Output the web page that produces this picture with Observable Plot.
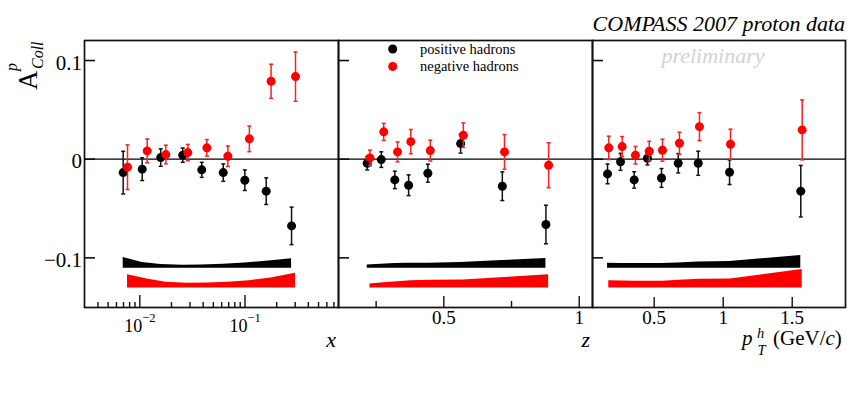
<!DOCTYPE html>
<html>
<head>
<meta charset="utf-8">
<script src="https://cdn.jsdelivr.net/npm/d3@7"></script>
<script src="https://cdn.jsdelivr.net/npm/@observablehq/plot@0.6"></script>
<style>
  body { margin: 0; background: #fff; }
  #chart { position: relative; width: 847px; height: 396px; font-family: "Liberation Serif", "DejaVu Serif", serif; }
  #chart svg { position: absolute; top: 0; overflow: visible; }
</style>
</head>
<body>
<div id="chart"></div>
<script>
// ---------- Data ----------
// Panel x (Bjorken x)
const xPosX   = [0.00695, 0.01054, 0.0158, 0.0256, 0.0388, 0.0621, 0.0996, 0.159, 0.277];
const xPosA   = [-0.0136, -0.0101, 0.0016, 0.0041, -0.0108, -0.0136, -0.0213, -0.0324, -0.0676];
const xPosErr = [0.0216, 0.0115, 0.0088, 0.0072, 0.0076, 0.0088, 0.0104, 0.0135, 0.019];
const xPosSys = [0.0108, 0.0057, 0.0037, 0.0030, 0.0034, 0.0041, 0.0054, 0.0071, 0.0095];
const xNegX   = [0.00764, 0.01175, 0.01767, 0.0286, 0.0434, 0.0687, 0.110, 0.177, 0.302];
const xNegA   = [-0.0081, 0.0084, 0.0047, 0.0067, 0.0115, 0.0030, 0.0206, 0.079, 0.0837];
const xNegErr = [0.0226, 0.012, 0.0094, 0.0083, 0.0084, 0.0103, 0.013, 0.0172, 0.025];
const xNegSys = [0.0135, 0.0091, 0.0057, 0.0047, 0.0051, 0.0057, 0.0074, 0.0101, 0.0149];

// Panel z
const zPosX   = [0.217, 0.269, 0.319, 0.370, 0.441, 0.562, 0.716, 0.877];
const zPosA   = [-0.0041, -0.0004, -0.021, -0.0264, -0.0142, 0.0158, -0.0274, -0.0662];
const zPosErr = [0.0068, 0.0079, 0.0088, 0.0105, 0.0091, 0.0096, 0.0145, 0.0195];
const zPosSys = [0.0034, 0.0040, 0.0047, 0.0051, 0.0050, 0.0057, 0.0078, 0.0098];
const zNegX   = [0.227, 0.278, 0.329, 0.378, 0.45, 0.572, 0.724, 0.887];
const zNegA   = [0.0013, 0.0277, 0.0074, 0.0178, 0.0087, 0.0243, 0.0074, -0.0061];
const zNegErr = [0.0078, 0.0086, 0.0101, 0.0123, 0.0105, 0.0124, 0.0176, 0.0228];
const zNegSys = [0.0041, 0.0054, 0.0064, 0.0074, 0.0078, 0.0081, 0.0105, 0.0135];

// Panel pT
const pPosX   = [0.162, 0.256, 0.355, 0.451, 0.553, 0.674, 0.819, 1.046, 1.562];
const pPosA   = [-0.0149, -0.0027, -0.021, 0.001, -0.019, -0.0041, -0.0041, -0.0132, -0.0324];
const pPosErr = [0.010, 0.0086, 0.0083, 0.0068, 0.0095, 0.0098, 0.0122, 0.0125, 0.0261];
const pPosSys = [0.0051, 0.0047, 0.0047, 0.0047, 0.0047, 0.0054, 0.0064, 0.0068, 0.0128];
const pNegX   = [0.171, 0.268, 0.364, 0.464, 0.56, 0.683, 0.828, 1.053, 1.572];
const pNegA   = [0.0115, 0.0128, 0.0041, 0.0081, 0.0091, 0.0162, 0.033, 0.0152, 0.0297];
const pNegErr = [0.0118, 0.0101, 0.0089, 0.010, 0.0111, 0.0111, 0.0142, 0.0152, 0.0304];
const pNegSys = [0.0074, 0.0071, 0.0068, 0.0068, 0.0068, 0.0078, 0.0088, 0.0091, 0.0186];

// systematic band baselines
const posBandBase = -0.1105;
const negBandBase = -0.1305;

// ticks
const yTicks = [-0.1, 0, 0.1];
const xMajorTicks = [0.01, 0.1];
const xExponents = ["\u22122", "\u22121"];
const xMinorTicks = [0.004, 0.005, 0.006, 0.007, 0.008, 0.009,
                     0.02, 0.03, 0.04, 0.05, 0.06, 0.07, 0.08, 0.09,
                     0.2, 0.3, 0.4, 0.5, 0.6, 0.7];
const zMajorTicks = [0.5, 1];
const zMinorTicks = [0.25, 0.75];
const pMajorTicks = [0.5, 1, 1.5];

// ---------- Helpers ----------
const rows = (xs, as, es, ss) => xs.map((x, i) => ({x, a: as[i], e: es[i], s: ss[i]}));
const cap = {draw(ctx) { ctx.moveTo(-2, 0); ctx.lineTo(2, 0); }};
const H = 396, MT = 40, MB = 89, innerH = H - MT - MB;
const FONT = "'Liberation Serif', 'DejaVu Serif', serif";
const fmt = d3.format("~g");

function bandMark(data, base, color) {
  return Plot.areaY(data, {x: "x", y1: () => base, y2: d => base + d.s, fill: color, curve: "linear"});
}
function pointMarks(data, color, errColor) {
  return [
    Plot.ruleX(data, {x: "x", y1: d => d.a - d.e, y2: d => d.a + d.e, stroke: errColor, strokeWidth: 1.5}),
    Plot.dot(data, {x: "x", y: d => d.a + d.e, symbol: cap, fill: "none", stroke: errColor, strokeWidth: 1.5}),
    Plot.dot(data, {x: "x", y: d => d.a - d.e, symbol: cap, fill: "none", stroke: errColor, strokeWidth: 1.5}),
    Plot.dot(data, {x: "x", y: "a", r: 4.5, fill: color, stroke: "none"})
  ];
}

function panel({left, width, marginLeft, xType, xDomain, pos, neg, major, majorLen, minor, minorLen, extra}) {
  const innerW = width - marginLeft;
  const marks = [
    bandMark(pos, posBandBase, "black"),
    bandMark(neg, negBandBase, "#ff0000"),
    Plot.ruleY([0], {stroke: "black", strokeWidth: 1.2}),
    ...pointMarks(pos, "black", "#111"),
    ...pointMarks(neg, "#ff0000", "#ff2020"),
    Plot.tickY(yTicks, {y: d => d, insetRight: innerW - 11, stroke: "#111", strokeWidth: 1.6}),
    Plot.tickX(major, {x: d => d, insetTop: innerH - majorLen, stroke: "#111", strokeWidth: 1.4}),
    Plot.tickX(minor, {x: d => d, insetTop: innerH - minorLen, stroke: "#111", strokeWidth: 1.4}),
    Plot.frame({stroke: "#111", strokeWidth: 1.7}),
    ...extra
  ];
  const svg = Plot.plot({
    width, height: H,
    marginTop: MT, marginBottom: MB, marginLeft, marginRight: 0,
    x: {type: xType, domain: xDomain, axis: null, label: null},
    y: {domain: [-0.1503, 0.1203], axis: null, label: null},
    style: {background: "none", overflow: "visible", fontFamily: FONT, fontSize: "19px", color: "black"},
    marks
  });
  svg.style.left = left + "px";
  document.getElementById("chart").appendChild(svg);
}

// Panel 1: x (log)
panel({
  left: 0, width: 338, marginLeft: 84, xType: "log", xDomain: [0.00298, 0.774],
  pos: rows(xPosX, xPosA, xPosErr, xPosSys),
  neg: rows(xNegX, xNegA, xNegErr, xNegSys),
  major: xMajorTicks, majorLen: 12, minor: xMinorTicks, minorLen: 5,
  extra: [
    Plot.axisY({ticks: yTicks, tickFormat: fmt, tickSize: 0, tickPadding: 2.5, fontSize: 21, dy: 2.5, label: null}),
    Plot.text(xMajorTicks, {x: d => d, text: () => "10", frameAnchor: "bottom", lineAnchor: "bottom",
      textAnchor: "end", dx: 2.5, dy: 24, fontSize: 18}),
    Plot.text(xMajorTicks, {x: d => d, text: (d, i) => xExponents[i], frameAnchor: "bottom", lineAnchor: "bottom",
      textAnchor: "start", dx: 2.5, dy: 14.5, fontSize: 12.5})
  ]
});

// Panel 2: z
panel({
  left: 338, width: 254, marginLeft: 0, xType: "linear", xDomain: [0.111, 1.049],
  pos: rows(zPosX, zPosA, zPosErr, zPosSys),
  neg: rows(zNegX, zNegA, zNegErr, zNegSys),
  major: zMajorTicks, majorLen: 11, minor: zMinorTicks, minorLen: 6,
  extra: [Plot.axisX({ticks: zMajorTicks, tickFormat: fmt, tickSize: 0, tickPadding: 3, fontSize: 19, label: null})]
});

// Panel 3: pT
panel({
  left: 592, width: 253, marginLeft: 0, xType: "linear", xDomain: [0.053, 1.886],
  pos: rows(pPosX, pPosA, pPosErr, pPosSys),
  neg: rows(pNegX, pNegA, pNegErr, pNegSys),
  major: pMajorTicks, majorLen: 10, minor: [], minorLen: 5,
  extra: [Plot.axisX({ticks: pMajorTicks, tickFormat: fmt, tickSize: 0, tickPadding: 3, fontSize: 19, label: null})]
});

// ---------- Overlay text: title, watermark, legend, axis titles ----------
const ov = d3.select("#chart").append("svg")
  .attr("width", 847).attr("height", 396)
  .style("left", "0px").style("pointer-events", "none")
  .attr("font-family", FONT);

ov.append("text").attr("x", 845).attr("y", 31).attr("text-anchor", "end")
  .attr("font-size", 22).attr("font-style", "italic").text("COMPASS 2007 proton data");
ov.append("text").attr("x", 713).attr("y", 63).attr("text-anchor", "middle")
  .attr("font-size", 22).attr("font-style", "italic").attr("fill", "#d2d2d2").text("preliminary");

const legendItems = [
  {label: "positive hadrons", color: "black"},
  {label: "negative hadrons", color: "#ff0000"}
];
legendItems.forEach((it, i) => {
  const y = 49 + i * 17.5;
  ov.append("circle").attr("cx", 392.7).attr("cy", y).attr("r", 4.5).attr("fill", it.color);
  ov.append("text").attr("x", 420).attr("y", y + 4.5).attr("font-size", 14.5).text(it.label);
});

// y title  A^p_Coll (rotated)
const yt = ov.append("g").attr("transform", "translate(37,90) rotate(-90)");
yt.append("text").attr("x", 0).attr("y", 0).attr("font-size", 27).text("A");
yt.append("text").attr("x", 19).attr("y", -20).attr("font-size", 16).attr("font-style", "italic").text("p");
yt.append("text").attr("x", 21).attr("y", 6).attr("font-size", 16).attr("font-style", "italic").text("Coll");

// x titles
ov.append("text").attr("x", 336).attr("y", 346.5).attr("text-anchor", "end")
  .attr("font-size", 22).attr("font-style", "italic").text("x");
ov.append("text").attr("x", 590).attr("y", 347).attr("text-anchor", "end")
  .attr("font-size", 22).attr("font-style", "italic").text("z");
ov.append("text").attr("x", 742).attr("y", 345).attr("font-size", 21).attr("font-style", "italic").text("p");
ov.append("text").attr("x", 757).attr("y", 338).attr("font-size", 14.5).attr("font-style", "italic").text("h");
ov.append("text").attr("x", 757.5).attr("y", 355).attr("font-size", 14.5).attr("font-style", "italic").text("T");
const gev = ov.append("text").attr("x", 773).attr("y", 345).attr("font-size", 21);
gev.append("tspan").text("(GeV/");
gev.append("tspan").attr("font-style", "italic").text("c");
gev.append("tspan").text(")");
</script>
</body>
</html>
